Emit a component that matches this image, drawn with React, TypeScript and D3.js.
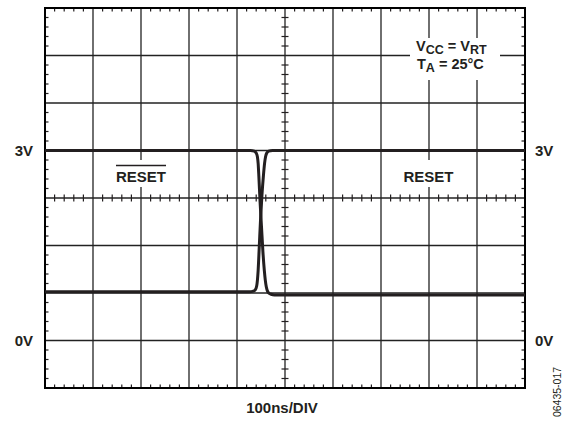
import React, { useEffect, useRef } from "react";
import * as d3 from "d3";

// time axis in ns (100ns/DIV), voltage in V (0.75V/DIV)
const resetBarTime = [0, 428, 436, 440, 442.5, 444, 445.5, 448, 451, 454, 457, 459, 461, 463, 466, 471, 478, 1000];
const resetBarVolt = [3.0, 3.0, 2.99, 2.96, 2.9, 2.8, 2.6, 2.2, 1.8, 1.4, 1.1, 0.95, 0.85, 0.79, 0.75, 0.73, 0.72, 0.72];
const resetTime = [0, 426, 434, 438, 441, 442.5, 444, 446.5, 449, 452, 455, 457.5, 459.5, 462, 466, 474, 1000];
const resetVolt = [0.77, 0.77, 0.78, 0.8, 0.86, 0.95, 1.1, 1.5, 1.9, 2.3, 2.6, 2.8, 2.9, 2.96, 2.99, 3.0, 3.0];

const levelLabels = ["3V", "0V"];
const levelValues = [3, 0];

const W = 577;
const H = 421;
const FONT = "'Liberation Sans', Arial, sans-serif";
const INK = "#231f20";

const App: React.FC = () => {
	const svgRef = useRef<SVGSVGElement>(null);

	useEffect(() => {
		if (!svgRef.current) return;
		const svg = d3.select(svgRef.current);
		svg.selectAll("*").remove();

		const left = 45, right = 525, top = 8, bottom = 388;
		const x = d3.scaleLinear().domain([0, 1000]).range([left, right]);
		const y = d3.scaleLinear().domain([-0.75, 5.25]).range([bottom, top]);

		const majorX = d3.range(0, 1001, 100);
		const majorY = d3.range(-0.75, 5.26, 0.75);
		const minorX = d3.range(0, 1001, 20);
		const minorY = d3.range(-0.75, 5.26, 0.15);

		svg.append("rect").attr("width", W).attr("height", H).attr("fill", "#fff");

		// grid
		const grid = svg.append("g").attr("stroke", "#222").attr("stroke-width", 1.3);
		grid.selectAll("line.gx")
			.data(majorX.slice(1, -1))
			.join("line")
			.attr("x1", (d) => x(d)).attr("x2", (d) => x(d))
			.attr("y1", top).attr("y2", bottom);
		grid.selectAll("line.gy")
			.data(majorY.slice(1, -1))
			.join("line")
			.attr("class", "gy")
			.attr("x1", left).attr("x2", right)
			.attr("y1", (d) => y(d)).attr("y2", (d) => y(d));

		// minor ticks on border and centre axes
		const ticks = svg.append("g").attr("stroke", INK).attr("stroke-width", 1.2);
		const tl = 3.5;
		const xm = minorX.filter((d) => d % 100 !== 0);
		const ym = minorY.filter((d) => Math.abs(Math.round(d / 0.75) * 0.75 - d) > 0.01);
		ticks.selectAll("line.t1").data(xm).join("line").attr("class", "t1")
			.attr("x1", (d) => x(d)).attr("x2", (d) => x(d)).attr("y1", top).attr("y2", top + tl);
		ticks.selectAll("line.t2").data(xm).join("line").attr("class", "t2")
			.attr("x1", (d) => x(d)).attr("x2", (d) => x(d)).attr("y1", bottom).attr("y2", bottom - tl);
		ticks.selectAll("line.t3").data(xm).join("line").attr("class", "t3")
			.attr("x1", (d) => x(d)).attr("x2", (d) => x(d)).attr("y1", y(2.25) - tl).attr("y2", y(2.25) + tl);
		ticks.selectAll("line.t4").data(ym).join("line").attr("class", "t4")
			.attr("y1", (d) => y(d)).attr("y2", (d) => y(d)).attr("x1", left).attr("x2", left + tl);
		ticks.selectAll("line.t5").data(ym).join("line").attr("class", "t5")
			.attr("y1", (d) => y(d)).attr("y2", (d) => y(d)).attr("x1", right).attr("x2", right - tl);
		ticks.selectAll("line.t6").data(ym).join("line").attr("class", "t6")
			.attr("y1", (d) => y(d)).attr("y2", (d) => y(d)).attr("x1", x(500) - tl).attr("x2", x(500) + tl);

		// label backgrounds
		svg.append("rect").attr("x", 410).attr("y", 38).attr("width", 90).attr("height", 42).attr("fill", "#fff");
		svg.append("rect").attr("x", 110).attr("y", 160).attr("width", 62).attr("height", 27).attr("fill", "#fff");
		svg.append("rect").attr("x", 398).attr("y", 160).attr("width", 62).attr("height", 27).attr("fill", "#fff");

		// frame
		svg.append("rect")
			.attr("x", left).attr("y", top)
			.attr("width", right - left).attr("height", bottom - top)
			.attr("fill", "none").attr("stroke", "#000").attr("stroke-width", 2);

		// traces
		const line = d3.line<[number, number]>()
			.x((d) => x(d[0]))
			.y((d) => y(d[1]))
			.curve(d3.curveMonotoneX);
		const traces = [
			d3.zip(resetBarTime, resetBarVolt) as [number, number][],
			d3.zip(resetTime, resetVolt) as [number, number][],
		];
		svg.append("g").selectAll("path").data(traces).join("path")
			.attr("d", (d) => line(d))
			.attr("fill", "none")
			.attr("stroke", INK)
			.attr("stroke-width", 3)
			.attr("stroke-linejoin", "round");

		const txt = svg.append("g")
			.attr("font-family", FONT)
			.attr("font-weight", "bold")
			.attr("fill", INK);

		// level labels
		txt.selectAll("text.ll").data(levelValues).join("text").attr("class", "ll")
			.attr("x", 33).attr("y", (d) => y(d) + 5.5)
			.attr("text-anchor", "end").attr("font-size", 15)
			.text((d, i) => levelLabels[i]);
		txt.selectAll("text.lr").data(levelValues).join("text").attr("class", "lr")
			.attr("x", 535).attr("y", (d) => y(d) + 5.5)
			.attr("font-size", 15)
			.text((d, i) => levelLabels[i]);

		// signal labels
		const rb = txt.append("text").attr("x", 141).attr("y", 181.5)
			.attr("text-anchor", "middle").attr("font-size", 15).text("RESET");
		const bb = (rb.node() as SVGTextElement).getBBox();
		svg.append("line")
			.attr("x1", bb.x).attr("x2", bb.x + bb.width)
			.attr("y1", 165.5).attr("y2", 165.5)
			.attr("stroke", INK).attr("stroke-width", 1.5);
		txt.append("text").attr("x", 428.5).attr("y", 181.5)
			.attr("text-anchor", "middle").attr("font-size", 15).text("RESET");

		// condition box
		const c1 = txt.append("text").attr("x", 416).attr("y", 50.5).attr("font-size", 14.5);
		c1.append("tspan").text("V");
		c1.append("tspan").attr("font-size", 12.5).attr("dy", 3).text("CC");
		c1.append("tspan").attr("dy", -3).text(" = V");
		c1.append("tspan").attr("font-size", 12.5).attr("dy", 3).text("RT");
		const c2 = txt.append("text").attr("x", 417).attr("y", 68.5).attr("font-size", 14.5);
		c2.append("tspan").text("T");
		c2.append("tspan").attr("font-size", 12.5).attr("dy", 3).text("A");
		c2.append("tspan").attr("dy", -3).text(" = 25°C");

		// axis caption
		txt.append("text").attr("x", x(500) - 3).attr("y", 412.5)
			.attr("text-anchor", "middle").attr("font-size", 15).text("100ns/DIV");

		// figure code
		svg.append("text")
			.attr("transform", "translate(561,392) rotate(-90)")
			.attr("text-anchor", "middle")
			.attr("font-family", FONT)
			.attr("font-size", 10.5)
			.attr("fill", INK)
			.text("06435-017");
	}, []);

	return (
		<svg
			ref={svgRef}
			width={W}
			height={H}
			style={{ position: "absolute", left: 0, top: 0 }}
		/>
	);
};

export default App;
